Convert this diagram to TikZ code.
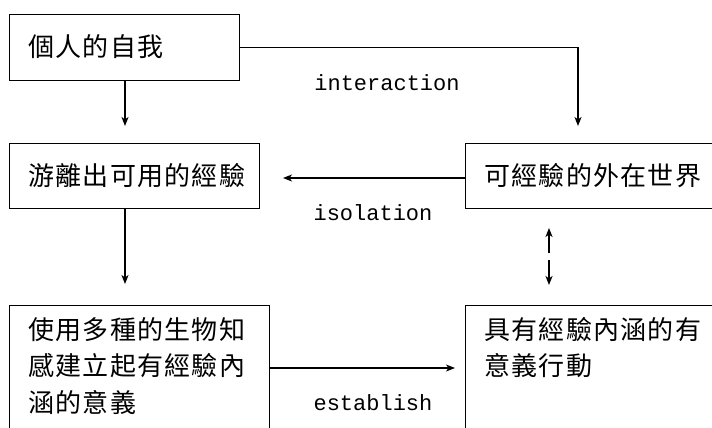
\documentclass[tikz,border=0pt]{standalone}
\usepackage{fontspec}
\newfontfamily\cjk[LetterSpace=5]{Noto Sans CJK TC}
\newfontfamily\monofont{Liberation Mono}
\usetikzlibrary{arrows.meta}
\begin{document}
\begin{tikzpicture}[x=1pt,y=-1pt,
  box/.style={draw,line width=1.4pt,anchor=north west,inner sep=0pt,minimum width=#1},
  cjktext/.style={anchor=north west,inner sep=0pt,align=left,font=\cjk\fontsize{26}{36.5}\selectfont},
  lbl/.style={inner sep=0pt,font=\monofont\fontsize{22}{24}\selectfont},
  arr/.style={line width=1.3pt,-{Stealth[length=9pt,width=7pt,inset=2.5pt]}}]
\useasboundingbox (0,0) rectangle (712,428);
\clip (0,0) rectangle (712,428);
\fill[white] (0,0) rectangle (712,428);
% boxes
\node[box=230pt,minimum height=66pt] (b1) at (9,14) {};
\node[box=250pt,minimum height=65pt] (b2) at (9,143) {};
\node[box=270pt,minimum height=65pt] (b3) at (465,143) {};
\node[box=260pt,minimum height=140pt] (b4) at (9,305) {};
\node[box=270pt,minimum height=140pt] (b5) at (465,305) {};
% texts
\node[cjktext,anchor=west] (t1) at (28,47) {個人的自我};
\node[cjktext,anchor=west] (t2) at (28,176) {游離出可用的經驗};
\node[cjktext,anchor=west] (t3) at (484,176) {可經驗的外在世界};
\node[cjktext] (t4) at (28,317) {使用多種的生物知\\感建立起有經驗內\\涵的意義};
\node[cjktext] (t5) at (484,317) {具有經驗內涵的有\\意義行動};
% labels
\node[lbl] (l1) at (387,83) {interaction};
\node[lbl] (l2) at (373,213) {isolation};
\node[lbl] (l3) at (373,403) {establish};
% connector ends
\coordinate (c1) at (578,126);
\coordinate (c2) at (125,126);
\coordinate (c3) at (283,178);
\coordinate (c4) at (125,284);
\coordinate (u1) at (549,253);
\coordinate (u2) at (549,228);
\coordinate (d1) at (549,260);
\coordinate (d2) at (549,285);
\coordinate (c5) at (455,368);
% connectors
\draw[arr] (b1.east) -| (c1);
\draw[arr] (b1.south -| c2) -- (c2);
\draw[arr] (b3.west |- c3) -- (c3);
\draw[arr] (b2.south -| c4) -- (c4);
\draw[arr] (u1) -- (u2);
\draw[arr] (d1) -- (d2);
\draw[arr] (b4.east |- c5) -- (c5);
\end{tikzpicture}
\end{document}
